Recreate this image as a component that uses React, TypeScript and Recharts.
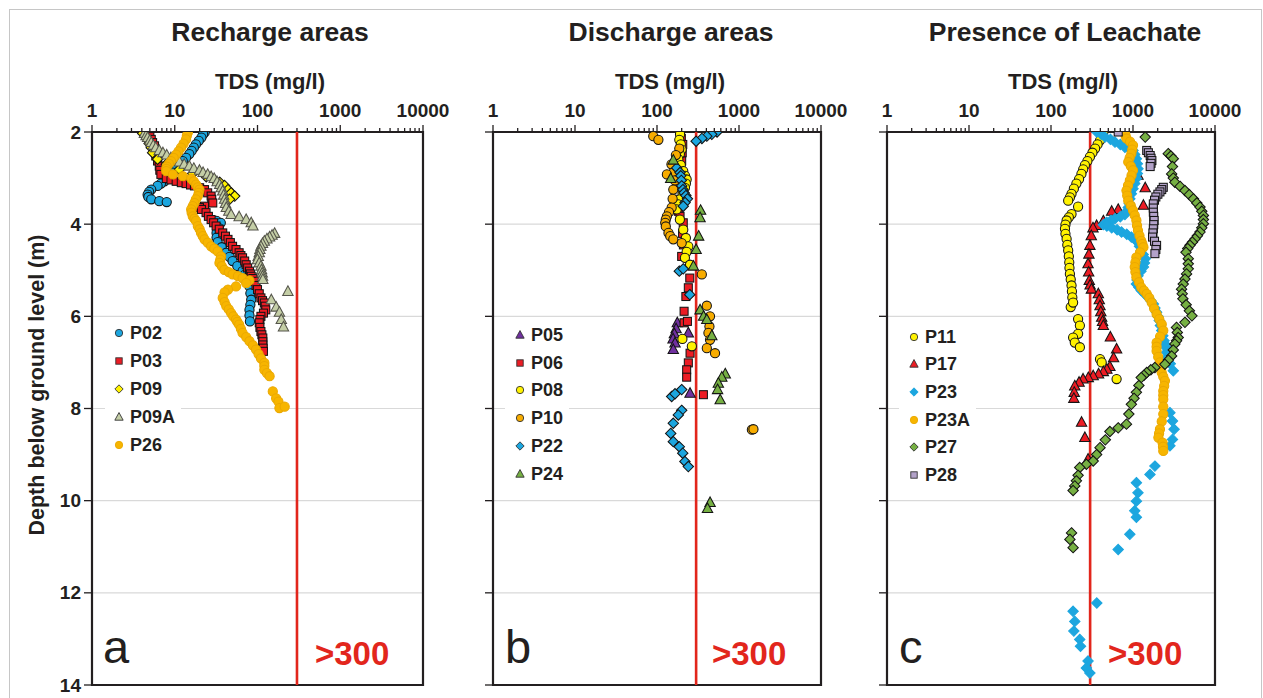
import React from 'react';
import {
  ScatterChart,
  Scatter,
  XAxis,
  YAxis,
  CartesianGrid,
  ReferenceLine,
  ReferenceArea,
  Legend,
} from 'recharts';

// ---------- axes ----------
const TDS_MAJOR = [1, 10, 100, 1000, 10000];
const TDS_TICKS = [
  1, 2, 3, 4, 5, 6, 7, 8, 9,
  10, 20, 30, 40, 50, 60, 70, 80, 90,
  100, 200, 300, 400, 500, 600, 700, 800, 900,
  1000, 2000, 3000, 4000, 5000, 6000, 7000, 8000, 9000,
  10000,
];
const DEPTH_TICKS = [2, 4, 6, 8, 10, 12, 14];
const TDS_DOMAIN = [1, 10000];
const DEPTH_DOMAIN = [2, 14];
const THRESHOLD = 300;

const PANEL_TITLES = ['Recharge areas', 'Discharge areas', 'Presence of Leachate'];
const PANEL_LETTERS = ['a', 'b', 'c'];
const X_LABEL = 'TDS (mg/l)';
const Y_LABEL = 'Depth below ground level (m)';
const THRESHOLD_LABEL = '>300';

// ---------- data: [depth (m), TDS (mg/l)] ----------
// Panel a – recharge areas
const P02: [number, number][] = [
  [2.01, 23], [2.05, 22], [2.12, 21], [2.19, 19.5], [2.27, 18], [2.34, 17], [2.41, 16], [2.48, 15],
  [2.56, 13.7], [2.63, 12.5], [2.70, 11.4], [2.79, 10.5], [2.88, 9.5], [2.97, 8.5], [3.07, 7.5],
  [3.12, 6.8], [3.17, 6.2], [3.25, 5.2], [3.30, 4.9], [3.36, 4.7], [3.41, 4.8], [3.46, 5.2],
  [3.50, 6.5], [3.52, 8.0], [3.93, 32], [3.97, 36], [4.08, 34], [4.19, 32], [4.29, 32], [4.39, 33],
  [4.50, 37], [4.62, 42], [4.71, 46], [4.80, 50], [4.91, 57], [5.02, 66], [5.10, 70], [5.17, 73],
  [5.26, 77], [5.35, 80], [5.50, 82], [5.64, 84], [5.75, 82], [5.86, 80], [5.98, 80], [6.11, 81],
];
const P03: [number, number][] = [
  [2.05, 4.7], [2.10, 5.0], [2.16, 5.2], [2.23, 5.4], [2.30, 5.7], [2.41, 5.8], [2.52, 5.9],
  [2.63, 6.2], [2.74, 6.5], [2.83, 6.6], [2.92, 6.8], [3.01, 7.9], [3.04, 9], [3.07, 10.4],
  [3.10, 12], [3.12, 13.7], [3.15, 15.5], [3.17, 17.3], [3.21, 20], [3.25, 22.9], [3.32, 25],
  [3.39, 27.5], [3.46, 28], [3.54, 28.8], [3.61, 22.9], [3.64, 19.9], [3.68, 21], [3.75, 23.9],
  [3.83, 25.5], [3.90, 27.5], [3.97, 29.5], [4.04, 31.6], [4.11, 34.5], [4.19, 38], [4.26, 41],
  [4.33, 44], [4.40, 47], [4.48, 50], [4.55, 55], [4.62, 60], [4.68, 63], [4.73, 66], [4.80, 70],
  [4.88, 73], [4.95, 76], [5.02, 80], [5.08, 82], [5.13, 84], [5.18, 88], [5.24, 92], [5.33, 96],
  [5.42, 100], [5.51, 105], [5.60, 110], [5.66, 115], [5.71, 121], [5.78, 124], [5.86, 126],
  [5.93, 118], [6.00, 110], [6.07, 107], [6.14, 105], [6.24, 107], [6.33, 110], [6.40, 113],
  [6.47, 116], [6.55, 116], [6.62, 116], [6.69, 117], [6.76, 118],
];
const P09: [number, number][] = [
  [2.03, 4.1], [2.09, 4.4], [2.16, 4.7], [2.25, 4.9], [2.34, 5.2], [2.45, 5.4], [2.59, 6.2],
  [2.70, 7.9], [2.81, 11.4], [2.90, 16.5], [2.97, 24], [3.03, 30], [3.09, 35], [3.16, 40],
  [3.25, 44], [3.32, 48], [3.39, 53], [3.46, 46],
];
const P09A: [number, number][] = [
  [2.03, 4.3], [2.08, 4.5], [2.12, 4.7], [2.18, 5], [2.23, 5.2], [2.29, 5.5], [2.34, 5.9],
  [2.40, 6.5], [2.45, 7.2], [2.50, 8], [2.56, 9.0], [2.61, 10], [2.65, 11.4], [2.70, 13],
  [2.74, 15], [2.79, 17], [2.83, 19.9], [2.88, 22], [2.92, 25], [2.97, 27.5], [3.01, 30],
  [3.08, 32.5], [3.14, 35], [3.21, 36.5], [3.28, 38], [3.37, 39], [3.46, 40], [3.55, 41],
  [3.64, 42], [3.72, 45], [3.79, 48], [3.84, 60], [3.90, 73], [3.97, 84], [4.04, 88],
  [4.20, 161], [4.24, 150], [4.28, 140], [4.32, 130], [4.37, 121], [4.42, 115], [4.48, 110],
  [4.55, 107], [4.62, 105], [4.70, 102], [4.77, 100], [4.84, 105], [4.91, 110], [4.99, 112],
  [5.06, 114], [5.13, 115], [5.20, 116], [5.46, 233], [5.64, 147], [5.80, 168], [5.91, 184],
  [6.07, 194], [6.23, 206],
];
const P26: [number, number][] = [
  [2.01, 14.4], [2.08, 14], [2.16, 13.7], [2.25, 12.8], [2.34, 11.9], [2.42, 11.1], [2.49, 10.4],
  [2.56, 9.7], [2.63, 9.0], [2.69, 8.5], [2.75, 8.0], [2.80, 7.9], [2.85, 7.9], [2.92, 9.5],
  [2.96, 12.5], [3.01, 15.8], [3.07, 17], [3.14, 18.1], [3.20, 19], [3.25, 19.9], [3.32, 19.5],
  [3.39, 19.0], [3.46, 18], [3.54, 17.3], [3.61, 16.5], [3.68, 15.8], [3.75, 16], [3.83, 16.5],
  [3.88, 17.3], [3.93, 18.1], [4.04, 19], [4.11, 20], [4.19, 20.8], [4.26, 21.8], [4.33, 22.9],
  [4.40, 25], [4.48, 27.5], [4.53, 30], [4.59, 33], [4.70, 36.3], [4.77, 35.5], [4.84, 34.7],
  [4.91, 37], [4.99, 39.8], [5.04, 45], [5.09, 50], [5.13, 58], [5.17, 66], [5.22, 80],
  [5.28, 73], [5.35, 55], [5.42, 44], [5.48, 40], [5.60, 38], [5.69, 40], [5.78, 42], [5.85, 45],
  [5.93, 48], [6.00, 51], [6.07, 55], [6.12, 57], [6.18, 60], [6.27, 63], [6.36, 66], [6.45, 73],
  [6.54, 80], [6.63, 88], [6.72, 96], [6.82, 103], [6.91, 110], [7.01, 121], [7.08, 121],
  [7.16, 121], [7.23, 130], [7.30, 140], [7.63, 153], [7.78, 168], [7.85, 179], [7.99, 184],
  [7.96, 213],
];

// Panel b – discharge areas
const P05: [number, number][] = [
  [6.14, 177], [6.27, 171], [6.38, 163], [6.49, 157], [6.58, 166], [6.72, 158], [6.36, 241], [7.67, 253],
];
const P06: [number, number][] = [
  [2.01, 191], [2.14, 198], [2.27, 206], [2.45, 203], [2.63, 200], [2.76, 190], [2.88, 182],
  [3.10, 175], [3.46, 166], [3.57, 174], [3.72, 182], [3.83, 191], [3.97, 209], [4.20, 205],
  [4.45, 210], [4.70, 200], [5.17, 251], [5.38, 241], [5.57, 225], [5.89, 214], [6.14, 214],
  [6.11, 235], [6.80, 253], [7.01, 241], [7.16, 230], [7.32, 230], [7.70, 368],
];
const P08: [number, number][] = [
  [2.05, 191], [2.17, 187], [2.27, 195], [2.38, 200], [2.48, 190], [2.59, 182], [2.72, 195],
  [2.85, 209], [2.95, 220], [3.03, 230], [3.12, 225], [3.21, 219], [3.33, 205], [3.46, 191],
  [3.57, 182], [3.68, 174], [3.90, 190], [4.12, 209], [4.30, 225], [4.48, 241], [4.60, 230],
  [4.73, 219], [4.88, 253], [6.49, 204], [6.65, 266],
];
const P10: [number, number][] = [
  [2.09, 90], [2.17, 104], [2.36, 187], [2.50, 170], [2.70, 150], [2.88, 158], [2.92, 132],
  [3.05, 165], [3.25, 158], [3.45, 155], [3.64, 151], [3.74, 140], [3.83, 132], [3.90, 128],
  [3.97, 126], [4.05, 128], [4.19, 138], [4.26, 145], [4.33, 158], [4.41, 200], [5.09, 352],
  [5.77, 405], [6.00, 443], [6.22, 436], [6.36, 424], [6.51, 443], [6.69, 405], [6.80, 510],
  [8.46, 1436], [8.45, 1500],
];
const P22: [number, number][] = [
  [2.0, 540], [2.05, 466], [2.09, 405], [2.14, 353], [2.20, 300], [2.78, 174], [2.88, 191],
  [2.95, 195], [3.05, 198], [3.17, 200], [3.25, 207], [3.32, 214], [3.38, 225], [3.45, 235],
  [3.53, 220], [3.61, 209], [5.02, 187], [4.97, 209], [5.53, 251], [7.74, 151], [7.68, 166],
  [7.59, 200], [8.04, 200], [8.14, 182], [8.32, 158], [8.54, 147], [8.72, 158], [8.83, 187],
  [8.97, 206], [9.15, 219], [9.26, 241],
];
const P24: [number, number][] = [
  [2.61, 158], [3.01, 147], [3.70, 340], [3.86, 335], [4.26, 322], [4.55, 300], [4.91, 278],
  [5.86, 335], [6.00, 370], [6.07, 405], [6.42, 466], [7.25, 680], [7.32, 617], [7.45, 560],
  [7.59, 548], [7.81, 590], [10.04, 444], [10.17, 413],
];

// Panel c – presence of leachate
const P11: [number, number][] = [
  [2.00, 435], [2.09, 415], [2.18, 397], [2.27, 370], [2.36, 345], [2.45, 320], [2.54, 298],
  [2.63, 278], [2.72, 259], [2.81, 247], [2.91, 235], [3.02, 220], [3.12, 204], [3.23, 190],
  [3.34, 178], [3.42, 170], [3.49, 162], [3.62, 214], [3.78, 178], [3.85, 165], [3.92, 155],
  [4.01, 150], [4.10, 148], [4.21, 150], [4.32, 155], [4.45, 158], [4.57, 162], [4.70, 165],
  [4.83, 167], [4.95, 168], [5.08, 170], [5.20, 174], [5.33, 178], [5.46, 180], [5.59, 182],
  [5.80, 174], [5.70, 186], [6.06, 214], [6.20, 225], [6.38, 214], [6.46, 186], [6.57, 195],
  [6.67, 225], [6.93, 396], [7.00, 415], [7.36, 631],
];
const P17: [number, number][] = [
  [2.94, 1150], [3.21, 1410], [3.59, 1340], [3.68, 660], [3.72, 550], [3.93, 435], [4.03, 360],
  [4.08, 325], [4.25, 310], [4.46, 298], [4.65, 290], [4.86, 283], [5.04, 288], [5.22, 293],
  [5.32, 300], [5.41, 311], [5.51, 378], [5.64, 388], [5.77, 396], [5.90, 405], [6.02, 415],
  [6.11, 425], [6.20, 435], [6.45, 530], [6.71, 631], [6.90, 580], [7.09, 523], [7.15, 480],
  [7.20, 435], [7.25, 380], [7.29, 327], [7.33, 285], [7.36, 246], [7.43, 220], [7.51, 195],
  [7.65, 192], [7.78, 190], [8.30, 236], [8.63, 259], [9.10, 283],
];
const P23: [number, number][] = [
  [2.00, 362], [2.05, 410], [2.11, 456], [2.16, 530], [2.22, 603], [2.27, 700], [2.33, 797],
  [2.36, 900], [2.40, 1000], [2.49, 1050], [2.58, 1100], [2.69, 1130], [2.80, 1150], [2.90, 1130],
  [3.01, 1100], [3.12, 1050], [3.23, 1000], [3.34, 955], [3.45, 915], [3.55, 900], [3.64, 875],
  [3.72, 840], [3.79, 797], [3.84, 700], [3.88, 603], [3.92, 540], [3.96, 477], [4.01, 435],
  [4.04, 480], [4.08, 550], [4.12, 640], [4.17, 725], [4.22, 840], [4.28, 955], [4.33, 1050],
  [4.39, 1150], [4.48, 1200], [4.57, 1260], [4.66, 1330], [4.75, 1410], [4.84, 1380], [4.93, 1340],
  [5.02, 1250], [5.12, 1150], [5.21, 1120], [5.30, 1100], [5.37, 1180], [5.44, 1260], [5.52, 1400],
  [5.59, 1540], [5.66, 1650], [5.73, 1770], [5.82, 1850], [5.91, 1940], [6.00, 2010], [6.09, 2090],
  [6.20, 2160], [6.31, 2240], [6.42, 2310], [6.53, 2390], [6.60, 2450], [6.67, 2520], [6.78, 2570],
  [6.89, 2620], [7.03, 2850], [7.18, 3100], [8.09, 2820], [8.27, 3030], [8.45, 3170], [8.67, 3030],
  [8.81, 2820], [9.25, 1850], [9.43, 1610], [9.61, 1100], [9.83, 1150], [10.01, 1100], [10.22, 1050],
  [10.36, 1100], [10.73, 915], [11.06, 660], [12.22, 362], [12.40, 186], [12.62, 195], [12.83, 190],
  [13.01, 224], [13.16, 229], [13.48, 283], [13.63, 270], [13.74, 298],
];
const P23A: [number, number][] = [
  [2.00, 795], [2.07, 810], [2.14, 832], [2.21, 920], [2.29, 1000], [2.38, 980], [2.47, 955],
  [2.56, 910], [2.65, 875], [2.74, 940], [2.83, 1000], [2.94, 960], [3.05, 915], [3.16, 870],
  [3.27, 832], [3.38, 850], [3.49, 875], [3.60, 940], [3.70, 1000], [3.81, 1050], [3.92, 1100],
  [4.03, 1120], [4.14, 1150], [4.25, 1200], [4.36, 1260], [4.43, 1300], [4.50, 1340], [4.61, 1220],
  [4.72, 1100], [4.83, 1070], [4.93, 1050], [5.04, 1070], [5.15, 1100], [5.26, 1180], [5.37, 1260],
  [5.44, 1360], [5.51, 1470], [5.60, 1580], [5.70, 1690], [5.83, 1810], [5.95, 1940], [6.06, 2090],
  [6.17, 2240], [6.31, 2340], [6.44, 2140], [6.57, 1940], [6.66, 1940], [6.75, 1940], [6.88, 2030],
  [7.00, 2130], [7.11, 2190], [7.22, 2240], [7.31, 2340], [7.40, 2450], [7.51, 2400], [7.62, 2340],
  [7.71, 2340], [7.80, 2340], [7.96, 2340], [8.12, 2340], [8.28, 2240], [8.45, 2130], [8.54, 2080],
  [8.63, 2040], [8.74, 2290], [8.83, 2320], [8.92, 2340],
];
const P27: [number, number][] = [
  [2.11, 1410], [2.47, 2690], [2.52, 2900], [2.58, 3100], [2.75, 3030], [2.91, 2960], [3.00, 3100],
  [3.09, 3240], [3.18, 3750], [3.27, 4300], [3.36, 4850], [3.45, 5450], [3.54, 6000], [3.63, 6560],
  [3.72, 6900], [3.81, 7220], [3.90, 7220], [3.99, 7220], [4.08, 6900], [4.17, 6560], [4.25, 6100],
  [4.32, 5710], [4.39, 5300], [4.46, 4950], [4.53, 4650], [4.61, 4430], [4.75, 4720], [4.86, 4720],
  [4.97, 4720], [5.08, 4500], [5.19, 4300], [5.30, 4100], [5.41, 3910], [5.51, 3980], [5.62, 4060],
  [5.75, 4450], [5.88, 4870], [5.99, 5230], [6.13, 4300], [6.24, 3390], [6.35, 3470], [6.46, 3560],
  [6.53, 3400], [6.60, 3240], [6.73, 3100], [6.86, 2960], [6.95, 2700], [7.04, 2450], [7.11, 1850],
  [7.16, 1650], [7.22, 1470], [7.28, 1360], [7.33, 1260], [7.50, 1180], [7.65, 1100], [7.78, 1030],
  [7.91, 955], [8.12, 890], [8.34, 832], [8.42, 660], [8.50, 523], [8.68, 460], [8.85, 396],
  [9.00, 360], [9.14, 327], [9.21, 270], [9.28, 224], [9.45, 214], [9.57, 204], [9.68, 195],
  [9.78, 186], [10.70, 178], [10.84, 170], [11.02, 186],
];
const P28: [number, number][] = [
  [2.00, 660], [2.40, 1470], [2.45, 1540], [2.51, 1620], [2.57, 1660], [2.62, 1700], [2.68, 1660],
  [2.75, 1620], [3.20, 2340], [3.25, 2240], [3.30, 2130], [3.35, 2010], [3.41, 1900], [3.48, 1830],
  [3.56, 1770], [3.65, 1770], [3.74, 1770], [3.83, 1790], [3.92, 1810], [4.01, 1790], [4.10, 1770],
  [4.19, 1750], [4.28, 1730], [4.37, 1830], [4.46, 1940], [4.55, 1900], [4.64, 1850],
];

// ---------- styling ----------
type Marker = 'circle' | 'square' | 'diamond' | 'triangle';
interface Series {
  name: string;
  data: [number, number][];
  marker: Marker;
  fill: string;
  stroke: string;
}

const DARK = '#141414';
const FONT = '"Liberation Sans", Arial, Helvetica, sans-serif';
const TEXT = '#231f20';
const RED = '#e2261c';

const SERIES_A: Series[] = [
  { name: 'P02', data: P02, marker: 'circle', fill: '#1ca6df', stroke: DARK },
  { name: 'P03', data: P03, marker: 'square', fill: '#ec1c24', stroke: DARK },
  { name: 'P09', data: P09, marker: 'diamond', fill: '#fff200', stroke: DARK },
  { name: 'P09A', data: P09A, marker: 'triangle', fill: '#c4cea6', stroke: '#55554b' },
  { name: 'P26', data: P26, marker: 'circle', fill: '#f7b500', stroke: '#eaa800' },
];
const SERIES_B: Series[] = [
  { name: 'P05', data: P05, marker: 'triangle', fill: '#70309f', stroke: DARK },
  { name: 'P06', data: P06, marker: 'square', fill: '#ec1c24', stroke: DARK },
  { name: 'P08', data: P08, marker: 'circle', fill: '#fff200', stroke: DARK },
  { name: 'P10', data: P10, marker: 'circle', fill: '#f7ac00', stroke: DARK },
  { name: 'P22', data: P22, marker: 'diamond', fill: '#1ca6df', stroke: DARK },
  { name: 'P24', data: P24, marker: 'triangle', fill: '#76b043', stroke: DARK },
];
const SERIES_C: Series[] = [
  { name: 'P11', data: P11, marker: 'circle', fill: '#fff200', stroke: DARK },
  { name: 'P17', data: P17, marker: 'triangle', fill: '#ec1c24', stroke: DARK },
  { name: 'P23', data: P23, marker: 'diamond', fill: '#1ca6df', stroke: '#1ca6df' },
  { name: 'P23A', data: P23A, marker: 'circle', fill: '#f7b500', stroke: '#eaa800' },
  { name: 'P27', data: P27, marker: 'diamond', fill: '#76b043', stroke: DARK },
  { name: 'P28', data: P28, marker: 'square', fill: '#b3a2c9', stroke: DARK },
];

function drawMarker(m: Marker, cx: number, cy: number, fill: string, stroke: string, s: number, sw = 1.05) {
  if (m === 'circle') return <circle cx={cx} cy={cy} r={4.6 * s} fill={fill} stroke={stroke} strokeWidth={sw} />;
  if (m === 'square') {
    const h = 4 * s;
    return <rect x={cx - h} y={cy - h} width={2 * h} height={2 * h} fill={fill} stroke={stroke} strokeWidth={sw} />;
  }
  if (m === 'diamond') {
    const h = 5.2 * s;
    return (
      <polygon
        points={`${cx},${cy - h} ${cx + h},${cy} ${cx},${cy + h} ${cx - h},${cy}`}
        fill={fill}
        stroke={stroke}
        strokeWidth={sw}
      />
    );
  }
  const w = 5.2 * s;
  return (
    <polygon
      points={`${cx},${cy - 5.6 * s} ${cx + w},${cy + 4 * s} ${cx - w},${cy + 4 * s}`}
      fill={fill}
      stroke={stroke}
      strokeWidth={sw}
    />
  );
}

const XTick = (props: any) => {
  const { x, y, payload } = props;
  const v = payload.value;
  const major = TDS_MAJOR.indexOf(v) >= 0;
  return (
    <g>
      <line x1={x} x2={x} y1={y} y2={y - (major ? 7 : 4)} stroke={TEXT} strokeWidth={1.3} />
      {major && (
        <text
          x={x}
          y={y - 15}
          textAnchor="middle"
          fontSize={19}
          fontWeight="bold"
          fontFamily={FONT}
          fill={TEXT}
        >
          {v}
        </text>
      )}
    </g>
  );
};

const makeYTick = (showLabel: boolean) => (props: any) => {
  const { x, y, payload } = props;
  return (
    <g>
      <line x1={x - 8} x2={x + 1} y1={y} y2={y} stroke={TEXT} strokeWidth={1.3} />
      {showLabel && (
        <text
          x={x - 11}
          y={y + 6.5}
          textAnchor="end"
          fontSize={19}
          fontWeight="bold"
          fontFamily={FONT}
          fill={TEXT}
        >
          {payload.value}
        </text>
      )}
    </g>
  );
};

const LegendBox = ({ series, rowH, pad }: { series: Series[]; rowH: number; pad: number }) => (
  <div style={{ background: '#fff', paddingLeft: pad, paddingRight: 6 }}>
    {series.map((s) => (
      <div key={s.name} style={{ display: 'flex', alignItems: 'center', height: rowH }}>
        <svg width={14} height={14} style={{ display: 'block' }}>
          {drawMarker(s.marker, 7, 7, s.fill, s.stroke === s.fill || s.stroke === '#eaa800' ? s.stroke : '#333', 0.8, 0.9)}
        </svg>
        <span
          style={{
            marginLeft: 4,
            fontFamily: FONT,
            fontWeight: 'bold',
            fontSize: 18,
            color: TEXT,
            lineHeight: '18px',
          }}
        >
          {s.name}
        </span>
      </div>
    ))}
  </div>
);

interface PanelProps {
  left: number;
  width: number;
  series: Series[];
  legendLeft: number;
  legendTop: number;
  rowH: number;
  pad: number;
  showYLabels: boolean;
}

function Panel({ left, width, series, legendLeft, legendTop, rowH, pad, showYLabels }: PanelProps) {
  return (
    <div style={{ position: 'absolute', left, top: 0 }}>
      <ScatterChart width={width} height={698} margin={{ top: 100, right: 30, bottom: 13, left: 0 }}>
        <CartesianGrid vertical={false} stroke="#d9d9d9" strokeWidth={1.2} />
        <XAxis
          dataKey="tds"
          type="number"
          scale="log"
          domain={TDS_DOMAIN}
          ticks={TDS_TICKS}
          interval={0}
          orientation="top"
          height={32}
          tickSize={0}
          tickMargin={0}
          axisLine={false}
          tickLine={false}
          tick={(p: any) => <XTick {...p} />}
          allowDataOverflow
        />
        <YAxis
          dataKey="depth"
          type="number"
          domain={DEPTH_DOMAIN}
          reversed
          ticks={DEPTH_TICKS}
          interval={0}
          width={60}
          tickSize={0}
          tickMargin={0}
          axisLine={false}
          tickLine={false}
          tick={makeYTick(showYLabels)}
          allowDataOverflow
        />
        {series.map((s) => (
          <Scatter
            key={s.name}
            name={s.name}
            data={s.data.map(([depth, tds]) => ({ depth, tds }))}
            isAnimationActive={false}
            shape={(p: any) =>
              p.cx == null ? <g /> : drawMarker(s.marker, p.cx, p.cy, s.fill, s.stroke, 1)
            }
          />
        ))}
        <ReferenceLine x={THRESHOLD} stroke={RED} strokeWidth={2.6} />
        <ReferenceArea
          x1={TDS_DOMAIN[0]}
          x2={TDS_DOMAIN[1]}
          y1={DEPTH_DOMAIN[0]}
          y2={DEPTH_DOMAIN[1]}
          fill="none"
          fillOpacity={0}
          stroke={TEXT}
          strokeWidth={2.2}
        />
        <Legend
          layout="vertical"
          align="center"
          verticalAlign="middle"
          wrapperStyle={{ position: 'absolute', left: legendLeft, top: legendTop, width: 'auto', height: 'auto' }}
          content={() => <LegendBox series={series} rowH={rowH} pad={pad} />}
        />
      </ScatterChart>
    </div>
  );
}

export default function App() {
  const titleX = [270, 671, 1065];
  const subX = [270, 670, 1063];
  const letterX = [103, 505, 899];
  const threshX = [315, 712, 1108];
  return (
    <div
      style={{
        position: 'absolute',
        left: 0,
        top: 0,
        width: 1263,
        height: 698,
        overflow: 'hidden',
        background: '#fff',
      }}
    >
      <div
        style={{
          position: 'absolute',
          left: 9,
          top: 9,
          width: 1251,
          height: 720,
          border: '1px solid #c6c6c6',
        }}
      />
      <Panel left={32} width={421} series={SERIES_A} legendLeft={73} legendTop={318.7} rowH={28} pad={7} showYLabels />
      <Panel left={433} width={418} series={SERIES_B} legendLeft={72} legendTop={321} rowH={27.8} pad={8} showYLabels={false} />
      <Panel left={827} width={418} series={SERIES_C} legendLeft={72} legendTop={322.8} rowH={27.7} pad={8} showYLabels={false} />
      <svg
        width={1263}
        height={698}
        style={{ position: 'absolute', left: 0, top: 0, pointerEvents: 'none' }}
      >
        {PANEL_TITLES.map((t, i) => (
          <text key={t} x={titleX[i]} y={41} textAnchor="middle" fontFamily={FONT} fontWeight="bold" fontSize={26.5} fill={TEXT}>
            {t}
          </text>
        ))}
        {PANEL_TITLES.map((t, i) => (
          <text key={'x' + t} x={subX[i]} y={89} textAnchor="middle" fontFamily={FONT} fontWeight="bold" fontSize={22} fill={TEXT}>
            {X_LABEL}
          </text>
        ))}
        <text
          x={43.5}
          y={385}
          transform="rotate(-90 43.5 385)"
          textAnchor="middle"
          fontFamily={FONT}
          fontWeight="bold"
          fontSize={21.5}
          fill={TEXT}
        >
          {Y_LABEL}
        </text>
        {PANEL_LETTERS.map((l, i) => (
          <text key={l} x={letterX[i]} y={663} fontFamily={FONT} fontSize={47} fill={TEXT}>
            {l}
          </text>
        ))}
        {PANEL_LETTERS.map((l, i) => (
          <text key={'t' + l} x={threshX[i]} y={665} fontFamily={FONT} fontWeight="bold" fontSize={33} fill={RED}>
            {THRESHOLD_LABEL}
          </text>
        ))}
      </svg>
    </div>
  );
}
